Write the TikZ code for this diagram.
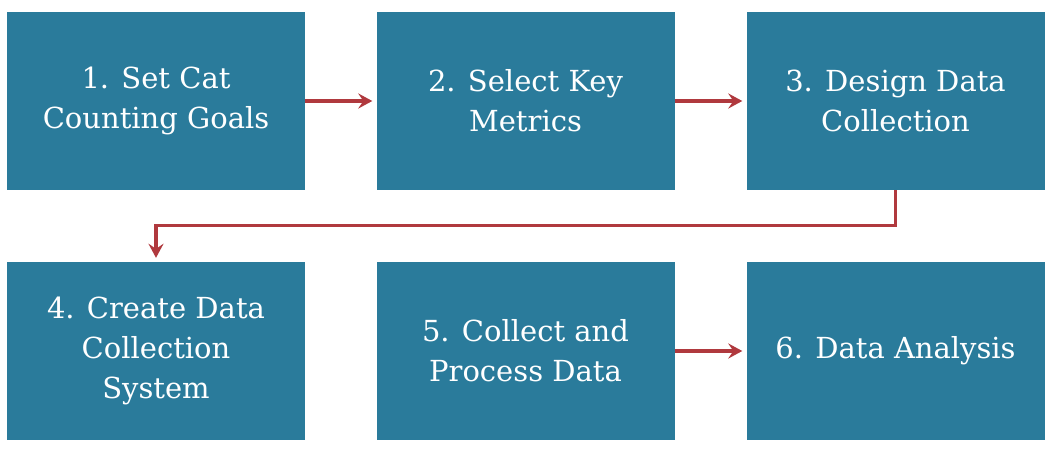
\documentclass[tikz,border=0pt]{standalone}
\usepackage{fontspec}
\setmainfont{DejaVu Serif}
\usetikzlibrary{arrows.meta}
\definecolor{boxblue}{HTML}{2A7B9B}
\definecolor{arrred}{HTML}{B0393E}
\begin{document}
\begin{tikzpicture}[x=1bp,y=-1bp,
  stepbox/.style={fill=boxblue, draw=none, minimum width=298bp, minimum height=178bp,
    text=white, align=center, inner sep=0pt,
    font=\fontsize{29bp}{40bp}\selectfont},
  conn/.style={draw=arrred, line width=3.2bp, shorten >=4bp,
    -{Stealth[length=14bp,width=15bp,inset=5bp]}}]
\useasboundingbox[fill=white] (0,0) rectangle (1050,450);
\node[stepbox] (b1) at (156,101) {1. Set Cat\\Counting Goals};
\node[stepbox] (b2) at (525.5,101) {2. Select Key\\Metrics};
\node[stepbox] (b3) at (895.5,101) {3. Design Data\\Collection};
\node[stepbox] (b4) at (156,351) {4. Create Data\\Collection\\System};
\node[stepbox] (b5) at (525.5,351) {5. Collect and\\Process Data};
\node[stepbox] (b6) at (895.5,351) {6. Data Analysis};
\draw[conn] (b1) -- (b2);
\draw[conn] (b2) -- (b3);
\draw[conn] (b5) -- (b6);
\draw[conn] (b3.south) -- ++(0,35) -| (b4.north);
\end{tikzpicture}
\end{document}
